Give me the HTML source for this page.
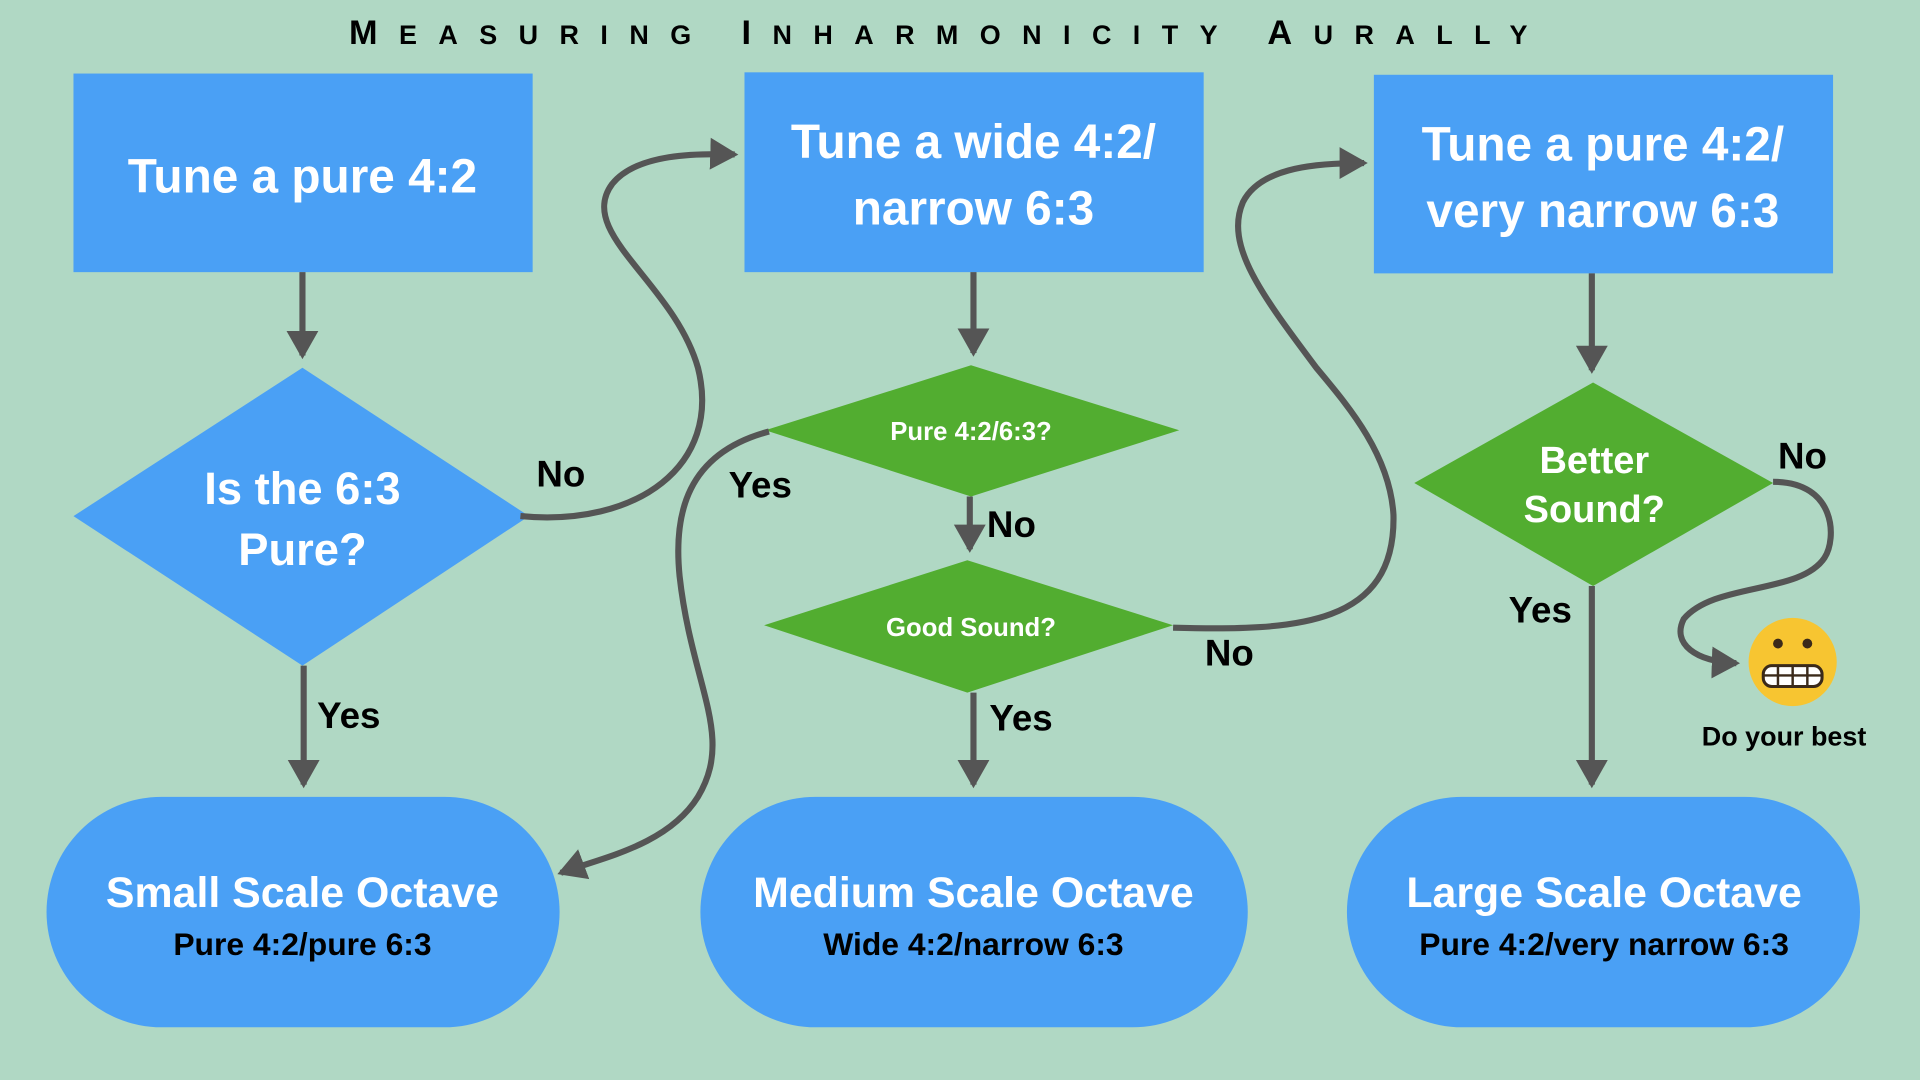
<!DOCTYPE html>
<html><head><meta charset="utf-8"><style>
html,body{margin:0;padding:0;background:#b0d8c4;}
svg{display:block}
text{font-family:"Liberation Sans",sans-serif;}
</style></head><body>
<svg width="1920" height="1080" viewBox="0 0 1568 881" preserveAspectRatio="none" xmlns="http://www.w3.org/2000/svg">
<defs>
<marker id="ah" markerWidth="6" markerHeight="6" refX="4" refY="3" orient="auto" markerUnits="strokeWidth">
<path d="M0,0.4 L4.6,3 L0,5.6 z" fill="#555"/></marker>
</defs>
<rect width="1568" height="881" fill="#b0d8c4"/>
<text x="775" y="36" text-anchor="middle" font-size="22" font-weight="bold" letter-spacing="17.5"><tspan font-size="28">M</tspan>EASURING  <tspan font-size="28">I</tspan>NHARMONICITY  <tspan font-size="28">A</tspan>URALLY</text>

<g fill="#4aa0f5">
<rect x="60" y="60" width="375" height="162"/>
<rect x="608" y="59" width="375" height="163"/>
<rect x="1122" y="61" width="375" height="162"/>
<polygon points="60,421 247,300 432,421 247,543"/>
<rect x="38" y="650" width="419" height="188" rx="94"/>
<rect x="572" y="650" width="447" height="188" rx="94"/>
<rect x="1100" y="650" width="419" height="188" rx="94"/>
</g>
<g fill="#52ad30">
<polygon points="625,351 793,298 963,351 793,405"/>
<polygon points="624,510 790,457 958,510 790,565"/>
<polygon points="1155,394 1301,312 1448,394 1301,478"/>
</g>

<g fill="#fff" text-anchor="middle" font-size="39" font-weight="bold">
<text x="247" y="157">Tune a pure 4:2</text>
<text x="795" y="129">Tune a wide 4:2/</text>
<text x="795" y="183">narrow 6:3</text>
<text x="1309" y="131">Tune a pure 4:2/</text>
<text x="1309" y="185">very narrow 6:3</text>
<text x="247" y="411" font-size="37">Is the 6:3</text>
<text x="247" y="461" font-size="37">Pure?</text>
<text x="793" y="359" font-size="21">Pure 4:2/6:3?</text>
<text x="793" y="519" font-size="21">Good Sound?</text>
<text x="1302" y="386" font-size="31">Better</text>
<text x="1302" y="426" font-size="31">Sound?</text>
<text x="247" y="740" font-size="35">Small Scale Octave</text>
<text x="795" y="740" font-size="35">Medium Scale Octave</text>
<text x="1310" y="740" font-size="35">Large Scale Octave</text>
</g>
<g fill="#000" text-anchor="middle" font-size="26" font-weight="bold">
<text x="247" y="779">Pure 4:2/pure 6:3</text>
<text x="795" y="779">Wide 4:2/narrow 6:3</text>
<text x="1310" y="779">Pure 4:2/very narrow 6:3</text>
</g>

<g stroke="#555" stroke-width="5" fill="none" marker-end="url(#ah)">
<line x1="247" y1="222" x2="247" y2="290"/>
<line x1="248" y1="543" x2="248" y2="640"/>
<line x1="795" y1="222" x2="795" y2="288"/>
<line x1="792" y1="405" x2="792" y2="448"/>
<line x1="795" y1="565" x2="795" y2="640"/>
<line x1="1300" y1="223" x2="1300" y2="302"/>
<line x1="1300" y1="478" x2="1300" y2="640"/>
<path d="M425,421 C520,430 590,380 570,300 C550,230 470,190 500,150 C520,125 570,125 600,126"/>
<path d="M628,352 C560,370 550,420 555,470 C565,560 600,600 570,650 C545,690 490,700 458,712"/>
<path d="M958,512 C1060,515 1140,510 1138,420 C1135,370 1100,330 1075,300 C1030,240 1000,200 1015,165 C1030,135 1080,133 1114,133"/>
<path d="M1448,393 C1500,393 1500,440 1490,455 C1470,485 1400,475 1375,505 C1365,525 1385,540 1418,541"/>
</g>

<g fill="#000" font-weight="bold" font-size="30">
<text x="438" y="397">No</text>
<text x="259" y="594">Yes</text>
<text x="595" y="406">Yes</text>
<text x="806" y="438">No</text>
<text x="808" y="596">Yes</text>
<text x="984" y="543">No</text>
<text x="1452" y="382">No</text>
<text x="1232" y="508">Yes</text>
<text x="1457" y="608" font-size="22" text-anchor="middle">Do your best</text>
</g>
<circle cx="1464" cy="540" r="36" fill="#f7c531"/>
<circle cx="1452" cy="525" r="4" fill="#3b2a1a"/>
<circle cx="1476" cy="525" r="4" fill="#3b2a1a"/>
<rect x="1440" y="543" width="48" height="17" rx="7" fill="#fff" stroke="#3b2a1a" stroke-width="2.5"/>
<line x1="1440" y1="551" x2="1488" y2="551" stroke="#3b2a1a" stroke-width="2"/>
<line x1="1452" y1="543" x2="1452" y2="560" stroke="#3b2a1a" stroke-width="2"/>
<line x1="1464" y1="543" x2="1464" y2="560" stroke="#3b2a1a" stroke-width="2"/>
<line x1="1476" y1="543" x2="1476" y2="560" stroke="#3b2a1a" stroke-width="2"/>
</svg>
</body></html>
